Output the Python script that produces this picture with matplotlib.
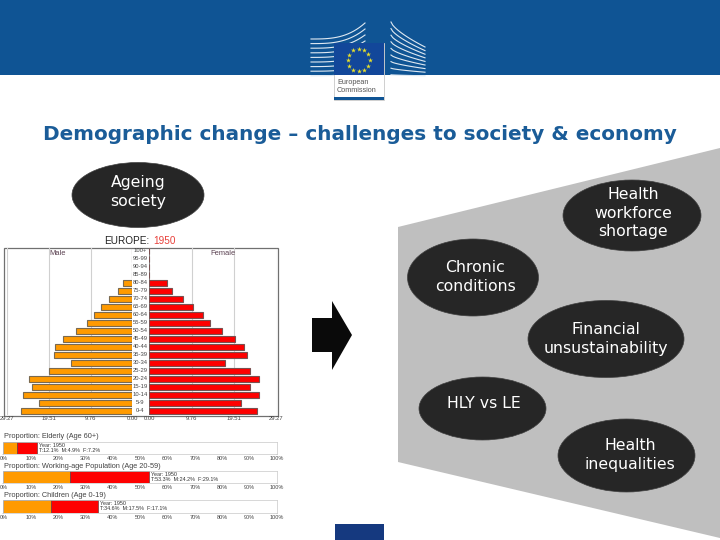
import numpy as np
import matplotlib
matplotlib.use("Agg")
import matplotlib.pyplot as plt
from matplotlib.patches import Ellipse, Polygon, Rectangle

# pyramid values, youngest group first
ages = ["0-4", "5-9", "10-14", "15-19", "20-24", "25-29", "30-34", "35-39", "40-44", "45-49",
        "50-54", "55-59", "60-64", "65-69", "70-74", "75-79", "80-84", "85-89", "90-94", "95-99", "100+"]
male = [25.9, 21.7, 25.6, 23.4, 24.1, 19.4, 14.3, 18.3, 18.1, 16.1, 13.2, 10.5, 9.0, 7.2, 5.5, 3.3, 2.2, 0, 0, 0, 0]
female = [24.8, 21.2, 25.2, 23.1, 25.2, 23.1, 17.4, 22.6, 21.7, 19.7, 16.8, 14.0, 12.5, 10.2, 7.9, 5.3, 4.1, 0, 0, 0, 0]
pyr_ticks = [0, 9.76, 19.51, 29.27]
pyr_labels = ["0.00", "9.76", "19.51", "29.27"]

# proportion bars
prop_titles = ["Proportion: Elderly (Age 60+)", "Proportion: Working-age Population (Age 20-59)",
               "Proportion: Children (Age 0-19)"]
prop_male = [4.9, 24.2, 17.5]
prop_female = [7.2, 29.1, 17.1]
prop_notes = ["T:12.1%  M:4.9%  F:7.2%", "T:53.3%  M:24.2%  F:29.1%", "T:34.6%  M:17.5%  F:17.1%"]
pct_ticks = list(range(0, 101, 10))

# slide bubbles: label, centre x, centre y, width, height
bubble_labels = ["Ageing\nsociety", "Health\nworkforce\nshortage", "Chronic\nconditions",
                 "Financial\nunsustainability", "HLY vs LE", "Health\ninequalities"]
bubble_x = [138, 632, 473, 606, 482.5, 626.5]
bubble_y = [195, 215.5, 277.5, 339, 408.5, 455.5]
bubble_w = [132, 138, 131, 156, 127, 137]
bubble_h = [65, 71, 77, 77, 63, 73]
text_x = [138, 633, 475, 606, 484, 630]
text_y = [192, 213, 277, 339, 403, 455]

W, H = 720, 540
ORANGE = "#ff9a00"
RED = "#fe0000"
BLUE = "#0f5494"
ARIAL = "Liberation Sans"


def px_axes(fig, x0, y0, x1, y1):
    # axes from pixel box, y counted from the top
    return fig.add_axes([x0 / W, 1 - y1 / H, (x1 - x0) / W, (y1 - y0) / H])


fig = plt.figure(figsize=(7.2, 5.4), dpi=100)
bg = fig.add_axes([0, 0, 1, 1])
bg.set_xlim(0, W)
bg.set_ylim(H, 0)
bg.axis("off")

# header band and logo buildings
bg.add_patch(Rectangle((0, 0), W, 75, color=BLUE, lw=0))
t = np.linspace(0, 1, 20)
for i in range(9):
    y0 = 39 + i * 4.6
    y1 = 23 + i * 6
    bg.plot(311 + 54 * t, y0 + (y1 - y0) * t**3, color="#dfe9f2", lw=0.8)
    ya = 22 + i * 6.6
    yb = 47 + i * 3.6
    bg.plot(391 + 34 * t, ya + (yb - ya) * t**0.7, color="#dfe9f2", lw=0.8)
bg.add_patch(Rectangle((334, 43), 49.5, 56.5, facecolor="white", edgecolor="#c8c8c8", lw=0.6, zorder=3))
bg.add_patch(Rectangle((334, 43), 49.5, 32, facecolor="#12479a", lw=0, zorder=4))
bg.add_patch(Rectangle((334, 97), 49.5, 2.5, facecolor=BLUE, lw=0, zorder=4))
angles = np.deg2rad(np.arange(0, 360, 30))
bg.scatter(358.7 + 11 * np.cos(angles), 60 + 11 * np.sin(angles), marker="*", s=14,
           color="#e8e02a", linewidths=0, zorder=5)
bg.text(337, 82, "European", fontsize=5.2, family=ARIAL, color="#555555", va="center", zorder=5)
bg.text(337, 91, "Commission", fontsize=5.2, family=ARIAL, color="#555555", va="center", zorder=5)

bg.text(360, 135, "Demographic change \u2013 challenges to society & economy", fontsize=14.4,
        fontweight="bold", color="#1a5c98", ha="center", va="center")

# grey funnel, arrow, footer flag
bg.add_patch(Polygon([(398, 227), (720, 148), (720, 538), (398, 462)], closed=True, color="#bfbfbf", lw=0))
bg.add_patch(Rectangle((312, 318), 21, 34, color="#0a0a0a", lw=0))
bg.add_patch(Polygon([(332, 301), (352, 335), (332, 370)], closed=True, color="#0a0a0a", lw=0))
bg.add_patch(Rectangle((335, 524), 49, 16, color="#15397f", lw=0))

for lab, x, y, w, h, tx, ty in zip(bubble_labels, bubble_x, bubble_y, bubble_w, bubble_h, text_x, text_y):
    bg.add_patch(Ellipse((x, y), w, h, facecolor="#262626", edgecolor="#404040", lw=0.5, zorder=3))
    bg.text(tx, ty, lab, color="white", fontsize=11.3, ha="center", va="center", linespacing=1.27, zorder=4)

# population pyramid
bg.text(149, 241.5, "EUROPE:", fontsize=7.2, family=ARIAL, color="#222222", ha="right", va="center")
bg.text(153, 241.5, "1950", fontsize=7.2, family=ARIAL, color="#e8403a", ha="left", va="center")
bg.add_patch(Rectangle((3.5, 247.5), 274, 168, facecolor="white", edgecolor="#707070", lw=0.9, zorder=1))

ax_m = px_axes(fig, 7, 248, 132.3, 415)
ax_f = px_axes(fig, 149, 248, 276.5, 415)
pos = np.arange(len(ages))
ax_m.barh(pos, male, height=0.86, color=ORANGE, edgecolor="#7a6a50", lw=0.8, zorder=3)
ax_f.barh(pos, female, height=0.86, color=RED, edgecolor="#7a5050", lw=0.8, zorder=3)
ax_m.set_xlim(29.27, 0)
ax_f.set_xlim(0, 29.27)
for ax, lab, lx in ((ax_m, "Male", 17.4), (ax_f, "Female", 17.1)):
    ax.set_ylim(-0.5, 20.375)
    ax.patch.set_alpha(0)
    ax.set_xticks(pyr_ticks)
    ax.set_xticklabels(pyr_labels, fontsize=4.2, family=ARIAL, color="#444444")
    ax.tick_params(axis="x", length=0, pad=1)
    ax.set_yticks([])
    ax.grid(axis="x", color="#d0d0d0", lw=0.8, zorder=0)
    ax.axvline(0, color="#777777", lw=0.6, zorder=2)
    for s in ax.spines.values():
        s.set_visible(False)
    ax.text(lx, 19.7, lab, fontsize=5.4, family=ARIAL, color="#5a4050", ha="center", va="center")
for p, a in zip(pos, ages):
    ax_m.annotate(a, xy=(0, p), xytext=(5.6, 0), textcoords="offset points", family=ARIAL,
                  fontsize=4.2, color="#444444", ha="center", va="center", annotation_clip=False)

# proportion strips
strip_top = [441.7, 470.7, 500]
title_y = [437, 466, 495.3]
for title, m, f, note, top, ty in zip(prop_titles, prop_male, prop_female, prop_notes, strip_top, title_y):
    ax = px_axes(fig, 3.4, top, 277, top + 12.5)
    ax.barh([0], [m], height=1, color=ORANGE, edgecolor="#6a5a40", lw=0.5)
    ax.barh([0], [f], left=[m], height=1, color=RED, edgecolor="#6a4040", lw=0.5)
    ax.set_xlim(0, 100)
    ax.set_ylim(-0.5, 0.5)
    ax.set_yticks([])
    ax.set_xticks(pct_ticks)
    ax.set_xticklabels([f"{v}%" for v in pct_ticks], fontsize=4.0, family=ARIAL, color="#444444")
    ax.tick_params(axis="x", length=1, width=0.3, pad=0.6, color="#888888")
    for s in ax.spines.values():
        s.set_color("#c8c8c8")
        s.set_linewidth(0.5)
    ax.text(m + f + 0.8, 0.2, "Year: 1950", fontsize=3.9, family=ARIAL, color="#333333", va="center")
    ax.text(m + f + 0.8, -0.2, note, fontsize=3.9, family=ARIAL, color="#333333", va="center")
    bg.text(3.5, ty, title, fontsize=5.3, family=ARIAL, color="#444444", va="center")

fig.savefig("out.png", dpi=100)
